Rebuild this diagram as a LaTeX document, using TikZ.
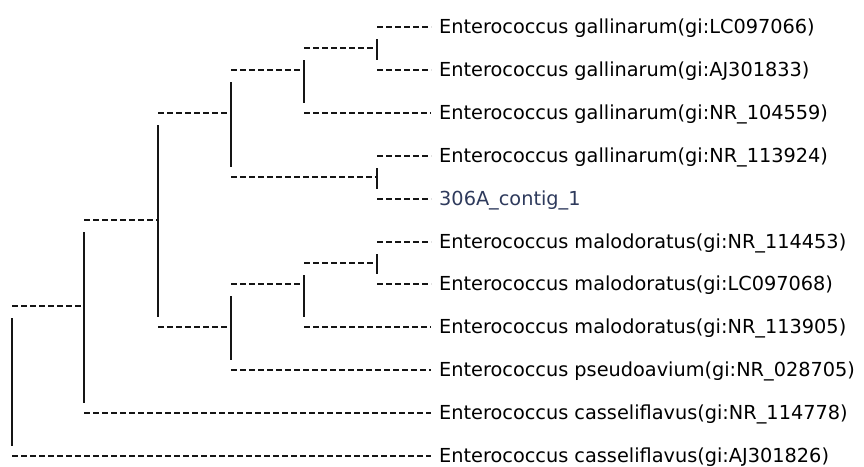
\documentclass[tikz,border=0pt]{standalone}
\usepackage{fontspec}
\usetikzlibrary{calc}
\newfontfamily\treefont{DejaVu Sans}
\definecolor{branchcol}{HTML}{151515}
\definecolor{querycol}{HTML}{2E3A5C}
\tikzset{
  branch/.style={draw=branchcol, line width=2.6pt, dash pattern=on 6.4pt off 2.6pt},
  joint/.style={draw=branchcol, line width=2.6pt},
  taxon/.style={inner sep=0pt, anchor=base west, font=\treefont\fontsize{19.3}{22}\selectfont, text=black},
  query/.style={taxon, text=querycol}
}
\begin{document}
\begin{tikzpicture}[x=1pt, y=-1pt]
\useasboundingbox (0,0) rectangle (864,466);
% leaf tips (end of the terminal branches)
\coordinate (l1) at (431,27);
\coordinate (l2) at (431,70);
\coordinate (l3) at (431,113);
\coordinate (l4) at (431,156);
\coordinate (l5) at (431,199);
\coordinate (l6) at (431,242);
\coordinate (l7) at (431,284);
\coordinate (l8) at (431,327);
\coordinate (l9) at (431,370);
\coordinate (l10) at (431,413);
\coordinate (l11) at (431,456);
% internal nodes: x of the joint, y of the incoming branch
\coordinate (A) at (377,48);
\coordinate (B) at (304,70);
\coordinate (C) at (377,177);
\coordinate (D) at (231,113);
\coordinate (G) at (377,263);
\coordinate (H) at (304,284);
\coordinate (F) at (231,327);
\coordinate (E) at (158,220);
\coordinate (I) at (84,306);
\coordinate (R) at (12,381);

% labels
\node[taxon] (t1) at ($(l1)+(8,6)$) {Enterococcus gallinarum(gi:LC097066)};
\node[taxon] (t2) at ($(l2)+(8,6)$) {Enterococcus gallinarum(gi:AJ301833)};
\node[taxon] (t3) at ($(l3)+(8,6)$) {Enterococcus gallinarum(gi:NR\_104559)};
\node[taxon] (t4) at ($(l4)+(8,6)$) {Enterococcus gallinarum(gi:NR\_113924)};
\node[query] (t5) at ($(l5)+(8,6)$) {306A\_contig\_1};
\node[taxon] (t6) at ($(l6)+(8,6)$) {Enterococcus malodoratus(gi:NR\_114453)};
\node[taxon] (t7) at ($(l7)+(8,6)$) {Enterococcus malodoratus(gi:LC097068)};
\node[taxon] (t8) at ($(l8)+(8,6)$) {Enterococcus malodoratus(gi:NR\_113905)};
\node[taxon] (t9) at ($(l9)+(8,6)$) {Enterococcus pseudoavium(gi:NR\_028705)};
\node[taxon] (t10) at ($(l10)+(8,6)$) {Enterococcus casseliflavus(gi:NR\_114778)};
\node[taxon] (t11) at ($(l11)+(8,6)$) {Enterococcus casseliflavus(gi:AJ301826)};

% horizontal branches (dashed)
\foreach \kid/\up in {l1/A, l2/A, l3/B, l4/C, l5/C, l6/G, l7/G, l8/H, l9/F, l10/I, l11/R}
  \draw[branch] (\kid -| \up) -- (\kid);
\foreach \kid/\up in {A/B, B/D, C/D, D/E, G/H, H/F, F/E, E/I, I/R}
  \draw[branch] (\kid -| \up) -- (\kid);

% vertical joints (solid), spanning between the child branches
\foreach \nd/\hi/\lo in {A/l1/l2, B/A/l3, C/l4/l5, D/B/C, G/l6/l7, H/G/l8, F/H/l9, E/D/F, I/E/l10, R/I/l11}
  \draw[joint] ($(\nd |- \hi)+(0,12)$) -- ($(\nd |- \lo)+(0,-10)$);
\end{tikzpicture}
\end{document}
